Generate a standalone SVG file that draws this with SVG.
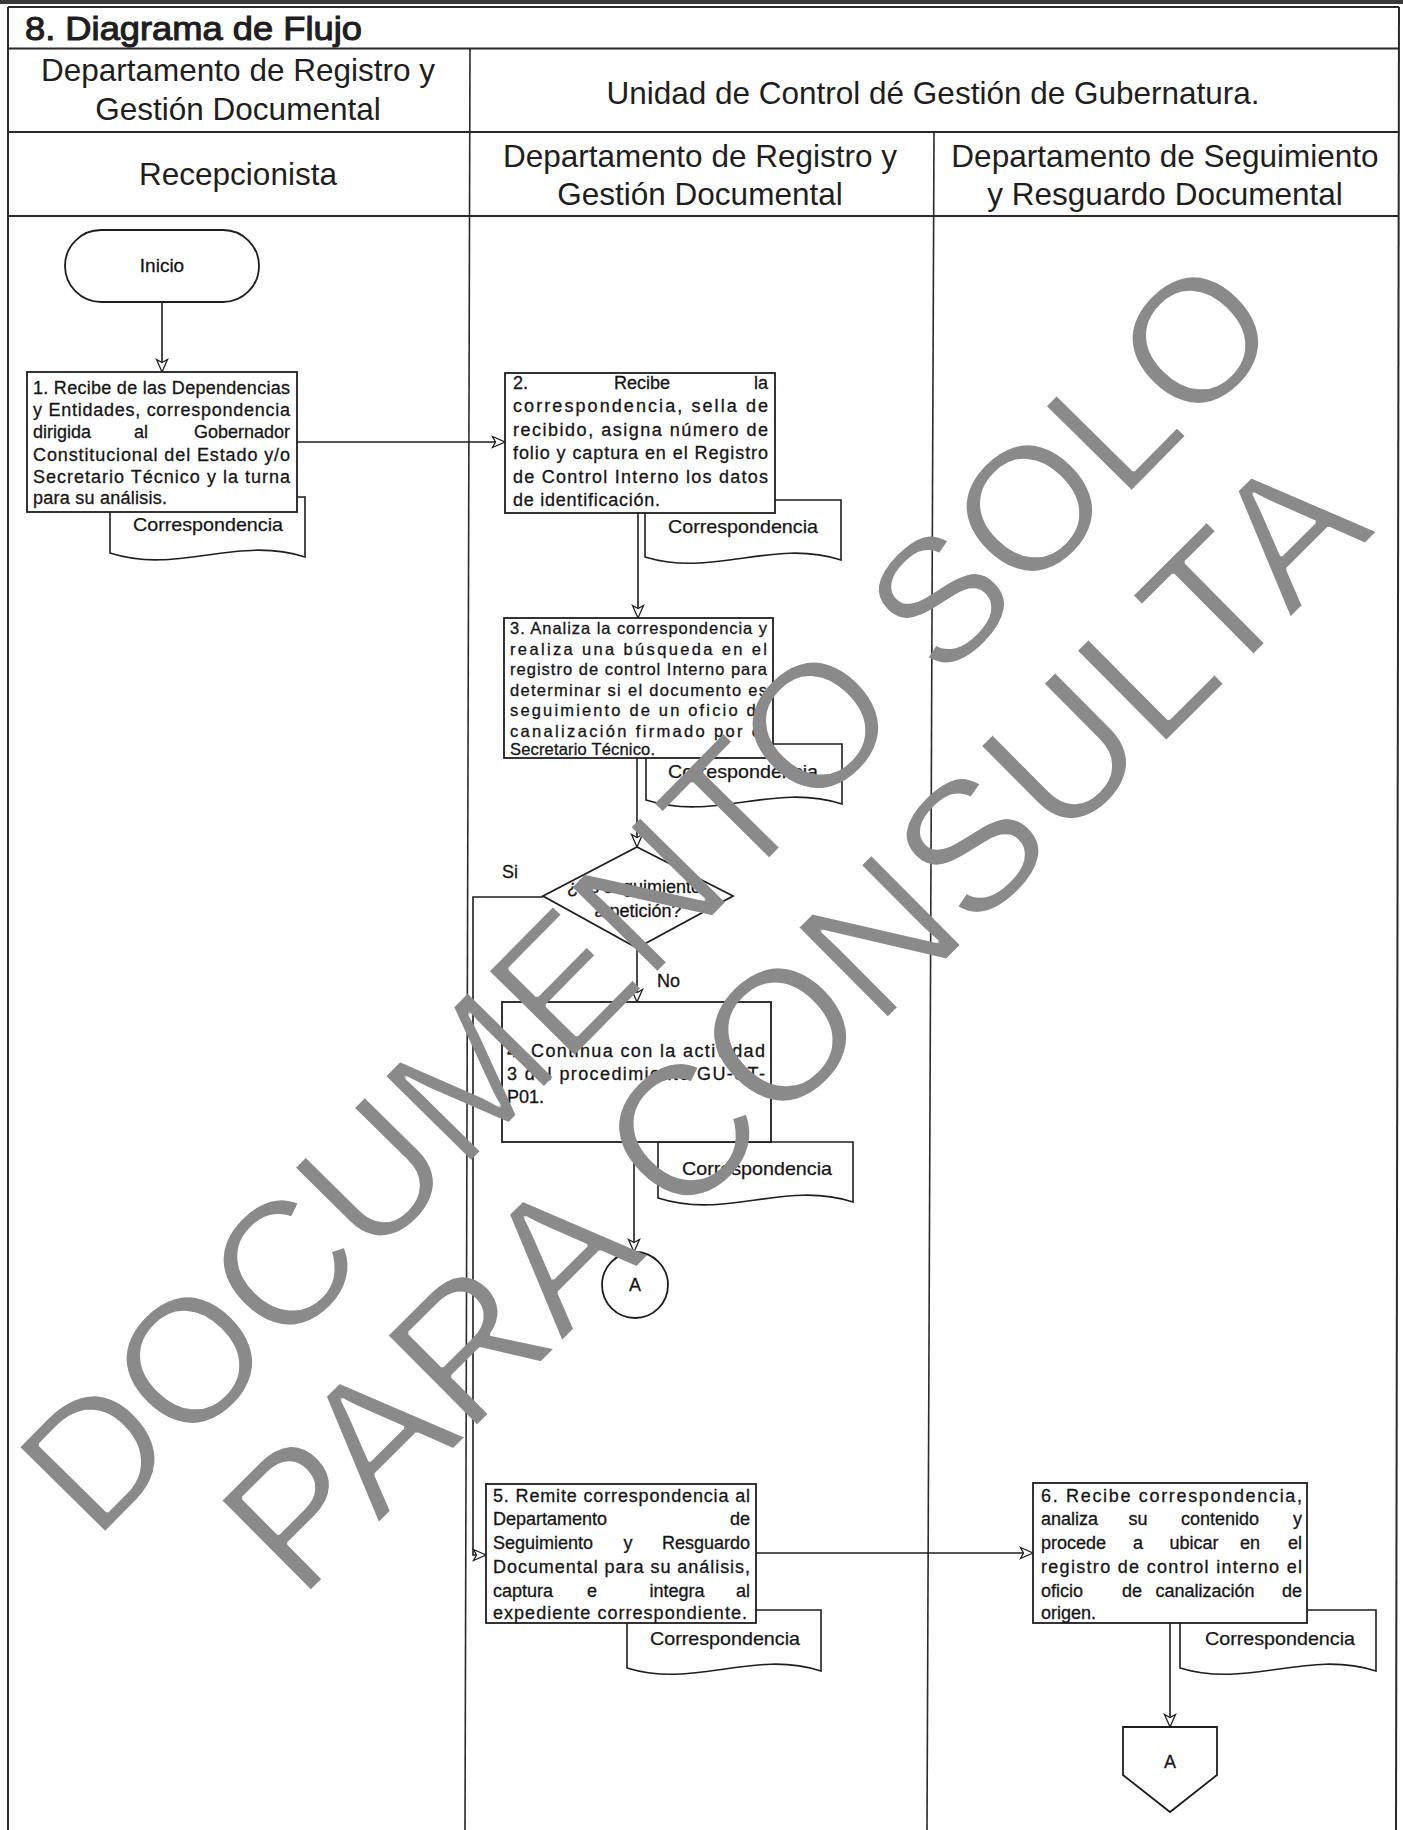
<svg xmlns="http://www.w3.org/2000/svg" width="1403" height="1830" viewBox="0 0 1403 1830">
<style>
.grid{stroke:#2a2a2a;stroke-width:2;fill:none}
.lane{stroke:#2a2a2a;stroke-width:1.6;fill:none}
.hd{font-family:"Liberation Sans",Arial,sans-serif;font-size:31.5px;fill:#1e1e1e}
.ttl{font-family:"Liberation Sans",Arial,sans-serif;font-size:34px;fill:#1e1e1e;stroke:#1e1e1e;stroke-width:1.1}
.box{fill:#fff;stroke:#1e1e1e;stroke-width:1.8}
.doc{fill:#fff;stroke:#1e1e1e;stroke-width:1.6}
.t{font-family:"Liberation Sans",Arial,sans-serif;font-size:18px;fill:#151515;stroke:#151515;stroke-width:0.3}
.t16{font-family:"Liberation Sans",Arial,sans-serif;font-size:16.5px;fill:#151515;stroke:#151515;stroke-width:0.3}
.dt{font-family:"Liberation Sans",Arial,sans-serif;font-size:19px;fill:#151515;stroke:#151515;stroke-width:0.25;text-anchor:middle}
.m{text-anchor:middle}
.e{text-anchor:end}
.con{stroke:#1e1e1e;stroke-width:1.6;fill:none;marker-end:url(#arr)}
.wm{font-family:"Liberation Sans",Arial,sans-serif;fill:#8a8a8a}
</style>
<defs>
<marker id="arr" markerUnits="userSpaceOnUse" markerWidth="16" markerHeight="14" refX="14" refY="7" orient="auto">
<path d="M1.5,1.5 L14,7 L1.5,12.5 L4.5,7 Z" fill="#fff" stroke="#1e1e1e" stroke-width="1.3"/>
</marker>
<filter id="thin" x="-5%" y="-5%" width="110%" height="110%"><feMorphology operator="erode" radius="1"/></filter>
</defs>
<rect width="1403" height="1830" fill="#fff"/>
<g id="table">
<rect x="0" y="0" width="1403" height="4" fill="#3a3a3a"/>
<line class="grid" x1="8" y1="7" x2="1399" y2="7"/>
<line class="grid" x1="8" y1="7" x2="8" y2="1830"/>
<line class="grid" x1="1399" y1="7" x2="1396" y2="1830"/>
<line class="grid" x1="8" y1="48.5" x2="1399" y2="48.5"/>
<line class="grid" x1="8" y1="132" x2="1399" y2="132"/>
<line class="grid" x1="8" y1="216" x2="1399" y2="216"/>
<line class="lane" x1="470" y1="48.5" x2="465" y2="1830"/>
<line class="lane" x1="934" y1="132" x2="927" y2="1830"/>
<text class="ttl" x="25" y="40" textLength="337" lengthAdjust="spacingAndGlyphs">8. Diagrama de Flujo</text>
<text class="hd m" x="238" y="81">Departamento de Registro y</text>
<text class="hd m" x="238" y="120">Gestión Documental</text>
<text class="hd m" x="933" y="104">Unidad de Control dé Gestión de Gubernatura.</text>
<text class="hd m" x="238" y="185">Recepcionista</text>
<text class="hd m" x="700" y="167">Departamento de Registro y</text>
<text class="hd m" x="700" y="205">Gestión Documental</text>
<text class="hd m" x="1165" y="167">Departamento de Seguimiento</text>
<text class="hd m" x="1165" y="205">y Resguardo Documental</text>
</g>
<g id="connectors">
<line class="con" x1="162" y1="302" x2="162" y2="372"/>
<line class="con" x1="297" y1="442" x2="505" y2="442"/>
<line class="con" x1="638" y1="513" x2="638" y2="618"/>
<line class="con" x1="637" y1="758" x2="637" y2="847"/>
<line class="con" x1="637" y1="948" x2="637" y2="1002"/>
<polyline class="con" points="543,897 473,897 473,1555 486,1555"/>
<line class="con" x1="634" y1="1142" x2="634" y2="1252"/>
<line class="con" x1="756" y1="1553" x2="1033" y2="1553"/>
<line class="con" x1="1170" y1="1623" x2="1170" y2="1727"/>
<text class="t" x="502" y="878">Si</text>
<text class="t" x="657" y="987">No</text>
</g>
<g id="inicio">
<rect class="box" x="65" y="230" width="194" height="72" rx="36"/>
<text class="t m" x="162" y="272" style="font-size:19px">Inicio</text>
</g>
<g id="doc1">
<path class="doc" d="M110,497 H305 V557 C237,535 178,575 110,553 Z"/>
<text class="dt" x="208" y="531" textLength="150" lengthAdjust="spacingAndGlyphs">Correspondencia</text>
</g>
<g id="step1">
<rect class="box" x="27" y="372" width="270" height="140"/>
<text class="t" x="33" y="394" textLength="257" lengthAdjust="spacing">1. Recibe de las Dependencias</text>
<text class="t" x="33" y="416" textLength="257" lengthAdjust="spacing">y Entidades, correspondencia</text>
<text class="t" x="33" y="438">dirigida</text><text class="t m" x="141" y="438">al</text><text class="t e" x="290" y="438">Gobernador</text>
<text class="t" x="33" y="461" textLength="257" lengthAdjust="spacing">Constitucional del Estado y/o</text>
<text class="t" x="33" y="483" textLength="257" lengthAdjust="spacing">Secretario Técnico y la turna</text>
<text class="t" x="33" y="504" textLength="134" lengthAdjust="spacing">para su análisis.</text>
</g>
<g id="doc2">
<path class="doc" d="M645,500 H841 V560 C772,538 714,578 645,557 Z"/>
<text class="dt" x="743" y="533" textLength="150" lengthAdjust="spacingAndGlyphs">Correspondencia</text>
</g>
<g id="step2">
<rect class="box" x="505" y="373" width="270" height="140"/>
<text class="t" x="513" y="389">2.</text><text class="t m" x="642" y="389">Recibe</text><text class="t e" x="768" y="389">la</text>
<text class="t" x="513" y="412" textLength="255" lengthAdjust="spacing">correspondencia, sella de</text>
<text class="t" x="513" y="436" textLength="255" lengthAdjust="spacing">recibido, asigna número de</text>
<text class="t" x="513" y="459" textLength="255" lengthAdjust="spacing">folio y captura en el Registro</text>
<text class="t" x="513" y="483" textLength="255" lengthAdjust="spacing">de Control Interno los datos</text>
<text class="t" x="513" y="506" textLength="147" lengthAdjust="spacing">de identificación.</text>
</g>
<g id="doc3">
<path class="doc" d="M646,744 H842 V804 C773,782 715,822 646,800 Z"/>
<text class="dt" x="743" y="778" textLength="150" lengthAdjust="spacingAndGlyphs">Correspondencia</text>
</g>
<g id="step3">
<rect class="box" x="504" y="618" width="269" height="140"/>
<text class="t16" x="510" y="634" textLength="257" lengthAdjust="spacing">3. Analiza la correspondencia y</text>
<text class="t16" x="510" y="654.5" textLength="257" lengthAdjust="spacing">realiza una búsqueda en el</text>
<text class="t16" x="510" y="675" textLength="257" lengthAdjust="spacing">registro de control Interno para</text>
<text class="t16" x="510" y="695.5" textLength="257" lengthAdjust="spacing">determinar si el documento es</text>
<text class="t16" x="510" y="716" textLength="257" lengthAdjust="spacing">seguimiento de un oficio de</text>
<text class="t16" x="510" y="736.5" textLength="257" lengthAdjust="spacing">canalización firmado por el</text>
<text class="t16" x="510" y="755" textLength="145" lengthAdjust="spacing">Secretario Técnico.</text>
</g>
<g id="decision">
<polygon class="box" points="637,847 733,896 637,948 543,896"/>
<text class="t m" x="634" y="893">¿Es seguimiento</text>
<text class="t m" x="638" y="917">a petición?</text>
</g>
<g id="doc4">
<path class="doc" d="M658,1142 H853 V1202 C784,1180 727,1220 658,1198 Z"/>
<text class="dt" x="757" y="1175" textLength="150" lengthAdjust="spacingAndGlyphs">Correspondencia</text>
</g>
<g id="step4">
<rect class="box" x="502" y="1002" width="269" height="140"/>
<text class="t" x="507" y="1057" textLength="258" lengthAdjust="spacing">4. Continua con la actividad</text>
<text class="t" x="507" y="1080" textLength="258" lengthAdjust="spacing">3 del procedimiento GU-ST-</text>
<text class="t" x="507" y="1103">P01.</text>
</g>
<g id="connectorA1">
<circle class="box" cx="635" cy="1285" r="33"/>
<text class="t m" x="635" y="1291">A</text>
</g>
<g id="doc5">
<path class="doc" d="M627,1610 H821 V1671 C753,1649 695,1689 627,1668 Z"/>
<text class="dt" x="725" y="1645" textLength="150" lengthAdjust="spacingAndGlyphs">Correspondencia</text>
</g>
<g id="step5">
<rect class="box" x="486" y="1484" width="270" height="139"/>
<text class="t" x="493" y="1502" textLength="257" lengthAdjust="spacing">5. Remite correspondencia al</text>
<text class="t" x="493" y="1525">Departamento</text><text class="t e" x="750" y="1525">de</text>
<text class="t" x="493" y="1549">Seguimiento</text><text class="t m" x="628" y="1549">y</text><text class="t e" x="750" y="1549">Resguardo</text>
<text class="t" x="493" y="1573" textLength="257" lengthAdjust="spacing">Documental para su análisis,</text>
<text class="t" x="493" y="1597">captura</text><text class="t m" x="592" y="1597">e</text><text class="t m" x="677" y="1597">integra</text><text class="t e" x="750" y="1597">al</text>
<text class="t" x="493" y="1619" textLength="254" lengthAdjust="spacing">expediente correspondiente.</text>
</g>
<g id="doc6">
<path class="doc" d="M1180,1610 H1376 V1671 C1307,1649 1249,1689 1180,1668 Z"/>
<text class="dt" x="1280" y="1645" textLength="150" lengthAdjust="spacingAndGlyphs">Correspondencia</text>
</g>
<g id="step6">
<rect class="box" x="1033" y="1483" width="274" height="140"/>
<text class="t" x="1041" y="1502" textLength="261" lengthAdjust="spacing">6. Recibe correspondencia,</text>
<text class="t" x="1041" y="1525">analiza</text><text class="t m" x="1138" y="1525">su</text><text class="t m" x="1220" y="1525">contenido</text><text class="t e" x="1302" y="1525">y</text>
<text class="t" x="1041" y="1549">procede</text><text class="t m" x="1138" y="1549">a</text><text class="t m" x="1194" y="1549">ubicar</text><text class="t m" x="1250" y="1549">en</text><text class="t e" x="1302" y="1549">el</text>
<text class="t" x="1041" y="1573" textLength="261" lengthAdjust="spacing">registro de control interno el</text>
<text class="t" x="1041" y="1597">oficio</text><text class="t m" x="1132" y="1597">de</text><text class="t m" x="1205" y="1597">canalización</text><text class="t e" x="1302" y="1597">de</text>
<text class="t" x="1041" y="1619">origen.</text>
</g>
<g id="offpageA">
<polygon class="box" points="1123,1727 1217,1727 1217,1775 1170,1812 1123,1775"/>
<text class="t m" x="1170" y="1768">A</text>
</g>
<g id="watermark" filter="url(#thin)">
<text class="wm" style="font-size:177px" transform="translate(95,1543) rotate(-45.4)">DOCUMENTO SOLO</text>
<text class="wm" style="font-size:186px" transform="translate(300,1602) rotate(-44.8)">PARA CONSULTA</text>
</g>
</svg>
